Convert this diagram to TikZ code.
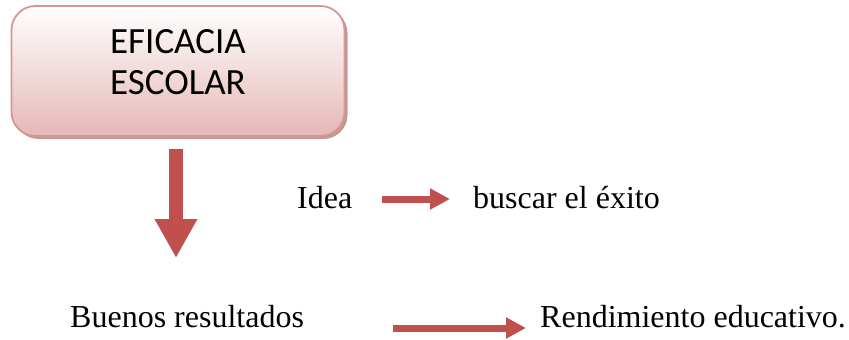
\documentclass[tikz,border=0pt]{standalone}
\usepackage{fontspec}
\setmainfont{Liberation Serif}
\newfontfamily\boxfont{Carlito}
\usetikzlibrary{arrows.meta,shadows}
\definecolor{arrowred}{HTML}{C0504D}
\definecolor{boxline}{HTML}{D99594}
\definecolor{boxfill}{HTML}{E5B8B7}
\definecolor{boxshadow}{HTML}{BF9A9A}
\begin{document}
\begin{tikzpicture}[x=1pt,y=-1pt]
				\tikzstyle{txt} = [anchor=base west, inner sep=0pt, font=\fontsize{32}{38}\selectfont]
				\tikzstyle{title} = [draw=boxline, line width=1.8pt, rounded corners=24pt, minimum width=333pt, minimum height=130pt, top color=white, bottom color=boxfill, align=center, text depth=19pt, font=\boxfont\fontsize{37}{41}\selectfont, drop shadow={shadow xshift=3pt, shadow yshift=-3pt, fill=boxshadow, opacity=1}]
				\tikzstyle{thin arrow} = [arrowred, line width=7pt, -{Triangle[length=20pt, width=20pt]}]
				\tikzstyle{big arrow} = [arrowred, line width=14pt, -{Triangle[length=39pt, width=40pt]}]
				\useasboundingbox (0,0) rectangle (849,340);
				
				\node[title] (Eficacia) at (178,71) {EFICACIA\\ESCOLAR};
				\coordinate (down) at (176,258);
				\draw[big arrow, shorten <=12pt] (Eficacia.south -| down) -- (down);
				
				\node[txt] (Idea) at (297,208) {Idea};
				\node[txt] (Exito) at (473,208) {buscar el éxito};
				\draw[thin arrow, shorten <=30pt, shorten >=23pt] ([yshift=9pt]Idea.base east) -- ([yshift=9pt]Exito.base west);
				
				\node[txt] (Buenos) at (70,327) {Buenos resultados};
				\node[txt] (Rend) at (540,327) {Rendimiento educativo.};
				\draw[thin arrow, shorten <=89pt, shorten >=14pt] ([yshift=-1pt]Buenos.base east) -- ([yshift=-1pt]Rend.base west);
\end{tikzpicture}
\end{document}
